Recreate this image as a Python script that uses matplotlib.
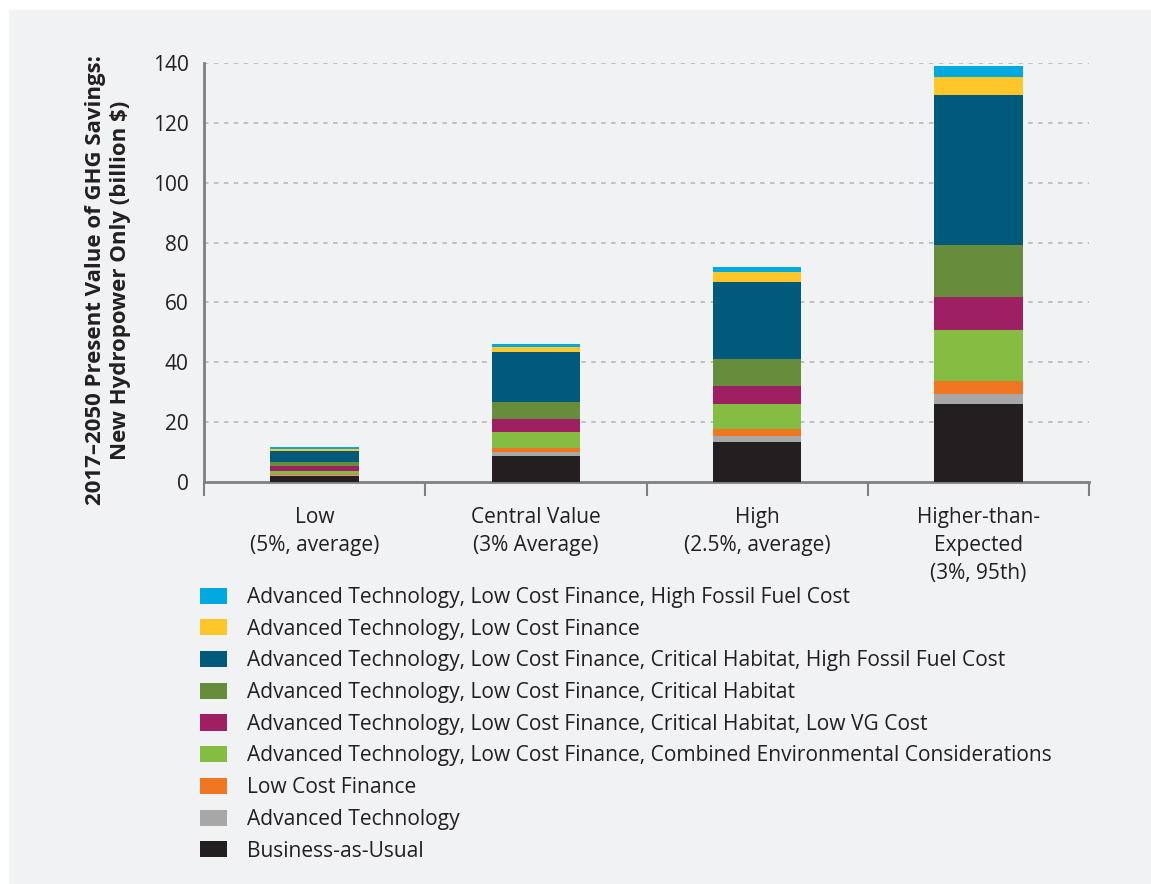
import matplotlib
matplotlib.use('Agg')
import matplotlib.pyplot as plt
import numpy as np

plt.rcParams['font.family'] = ['Open Sans', 'DejaVu Sans']

categories = ['Low\n(5%, average)', 'Central Value\n(3% Average)',
              'High\n(2.5%, average)', 'Higher-than-\nExpected\n(3%, 95th)']

# segments, bottom to top
series = [
    'Business-as-Usual',
    'Advanced Technology',
    'Low Cost Finance',
    'Advanced Technology, Low Cost Finance, Combined Environmental Considerations',
    'Advanced Technology, Low Cost Finance, Critical Habitat, Low VG Cost',
    'Advanced Technology, Low Cost Finance, Critical Habitat',
    'Advanced Technology, Low Cost Finance, Critical Habitat, High Fossil Fuel Cost',
    'Advanced Technology, Low Cost Finance',
    'Advanced Technology, Low Cost Finance, High Fossil Fuel Cost',
]
values = [
    [2.0, 8.6, 13.2, 26.0],
    [0.3, 1.3, 2.3, 3.4],
    [0.3, 1.6, 2.2, 4.5],
    [1.1, 5.2, 8.4, 16.9],
    [1.7, 4.3, 6.0, 11.0],
    [1.2, 5.7, 9.1, 17.5],
    [3.7, 16.6, 25.5, 50.0],
    [0.7, 1.7, 3.6, 6.1],
    [0.8, 1.2, 1.7, 3.5],
]
colors = ['#231F20', '#A7A7A7', '#F07622', '#84BD41', '#9E2063',
          '#678C3C', '#005A7C', '#FFC629', '#00A9E0']

bg = '#F1F2F4'
txt = '#231F20'

fig = plt.figure(figsize=(11.51, 8.84), dpi=100, facecolor='white')
fig.patches.append(plt.Rectangle((9 / 1151, 0), 1, 1 - 10 / 884,
                                 transform=fig.transFigure, color=bg, zorder=-10))

ax = fig.add_axes([204 / 1151, 1 - 482 / 884, 885 / 1151, 419 / 884])
ax.set_facecolor(bg)

x = np.arange(len(categories))
bottom = np.zeros(len(categories))
handles = []
for name, vals, c in zip(series, values, colors):
    b = ax.bar(x, vals, width=0.4, bottom=bottom, color=c, label=name, zorder=3)
    handles.append(b)
    bottom += np.array(vals)

ax.set_xlim(-0.5, 3.5)
ax.set_ylim(0, 140)
ax.set_yticks(range(0, 141, 20))
ax.tick_params(axis='y', length=0, labelsize=15, colors=txt, pad=11)
for yv in range(20, 141, 20):
    ax.axhline(yv, color='#BDBDBD', lw=1.3, ls=(0, (2.5, 3)), zorder=1)

ax.set_xticks([-0.5, 0.5, 1.5, 2.5, 3.5])
ax.set_xticklabels([])
ax.tick_params(axis='x', length=10, width=1.5, color='#808080')
for xi, lab in zip(x, categories):
    ax.text(xi, -8.2, lab, ha='center', va='top', fontsize=15, color=txt,
            linespacing=1.45)

for s in ['top', 'right']:
    ax.spines[s].set_visible(False)
for s in ['left', 'bottom']:
    ax.spines[s].set_color('#808080')
    ax.spines[s].set_linewidth(2)

fig.text(108 / 1151, 1 - 280 / 884,
         '2017\u20132050 Present Value of GHG Savings:\nNew Hydropower Only (billion $)',
         rotation=90, ha='center', va='center', multialignment='center',
         fontsize=16, fontweight='bold', color=txt, linespacing=1.3)

leg = fig.legend(handles[::-1], series[::-1], loc='upper left',
                 bbox_to_anchor=(200 / 1151, 1 - 587 / 884), frameon=False,
                 fontsize=15.1, handlelength=1.27, handleheight=0.8,
                 handletextpad=0.97, labelspacing=0.51, borderpad=0,
                 borderaxespad=0)
for t in leg.get_texts():
    t.set_color(txt)

fig.savefig('out.png', dpi=100, facecolor=fig.get_facecolor())
